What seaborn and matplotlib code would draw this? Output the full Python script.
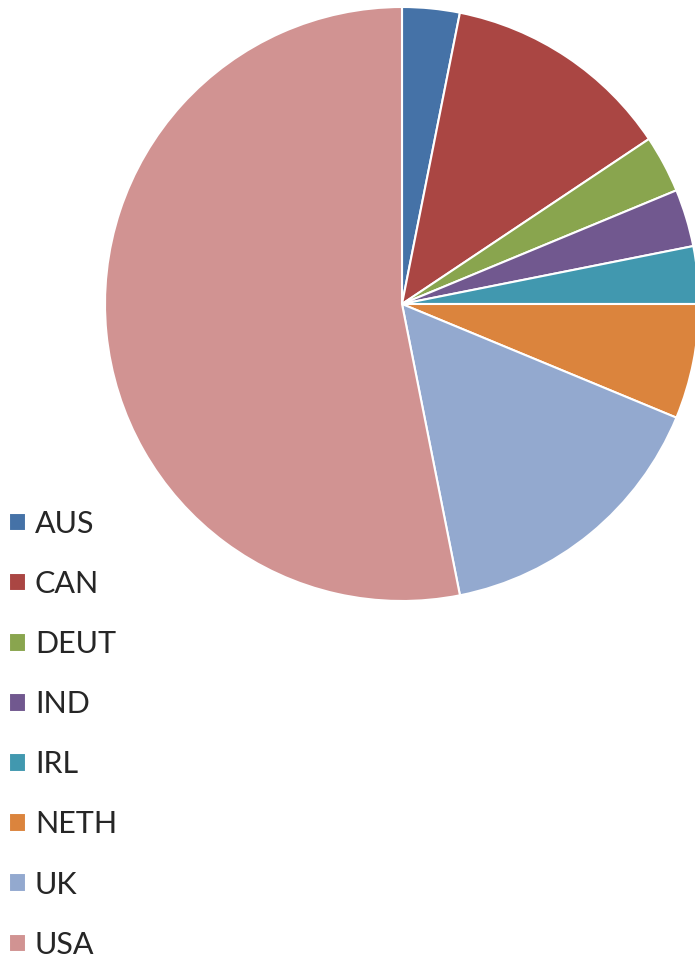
import matplotlib.pyplot as plt
import seaborn as sns

countries = ["AUS", "CAN", "DEUT", "IND", "IRL", "NETH", "UK", "USA"]
counts = [1, 4, 1, 1, 1, 2, 5, 17]
colors = ["#4572A7", "#AA4643", "#89A54E", "#71588F", "#4198AF", "#DB843D", "#93A9CF", "#D19392"]


def main():
    sns.set_style("white")
    plt.rcParams["font.family"] = ["Lato", "DejaVu Sans"]

    fig = plt.figure(figsize=(6.95, 9.59), dpi=100)
    ax = fig.add_axes([0, 0, 1, 1])
    wedges, _ = ax.pie(
        counts,
        colors=sns.color_palette(colors),
        startangle=90,
        counterclock=False,
        radius=1.0,
        wedgeprops=dict(edgecolor="white", linewidth=1.5),
    )
    # pie centre at (402, 304) px, radius 297 px
    r = 297
    ax.set_xlim(-402 / r, (695 - 402) / r)
    ax.set_ylim(-(959 - 304) / r, 304 / r)
    ax.set_aspect("equal")
    ax.axis("off")

    fig.legend(
        wedges,
        countries,
        loc="upper left",
        bbox_to_anchor=(9 / 695, 1 - 510 / 959),
        frameon=False,
        fontsize=22,
        handlelength=0.55,
        handleheight=0.55,
        handletextpad=0.3,
        labelspacing=1.05,
        borderpad=0,
        borderaxespad=0,
    )
    fig.savefig("out.png", dpi=100)


if __name__ == "__main__":
    main()
